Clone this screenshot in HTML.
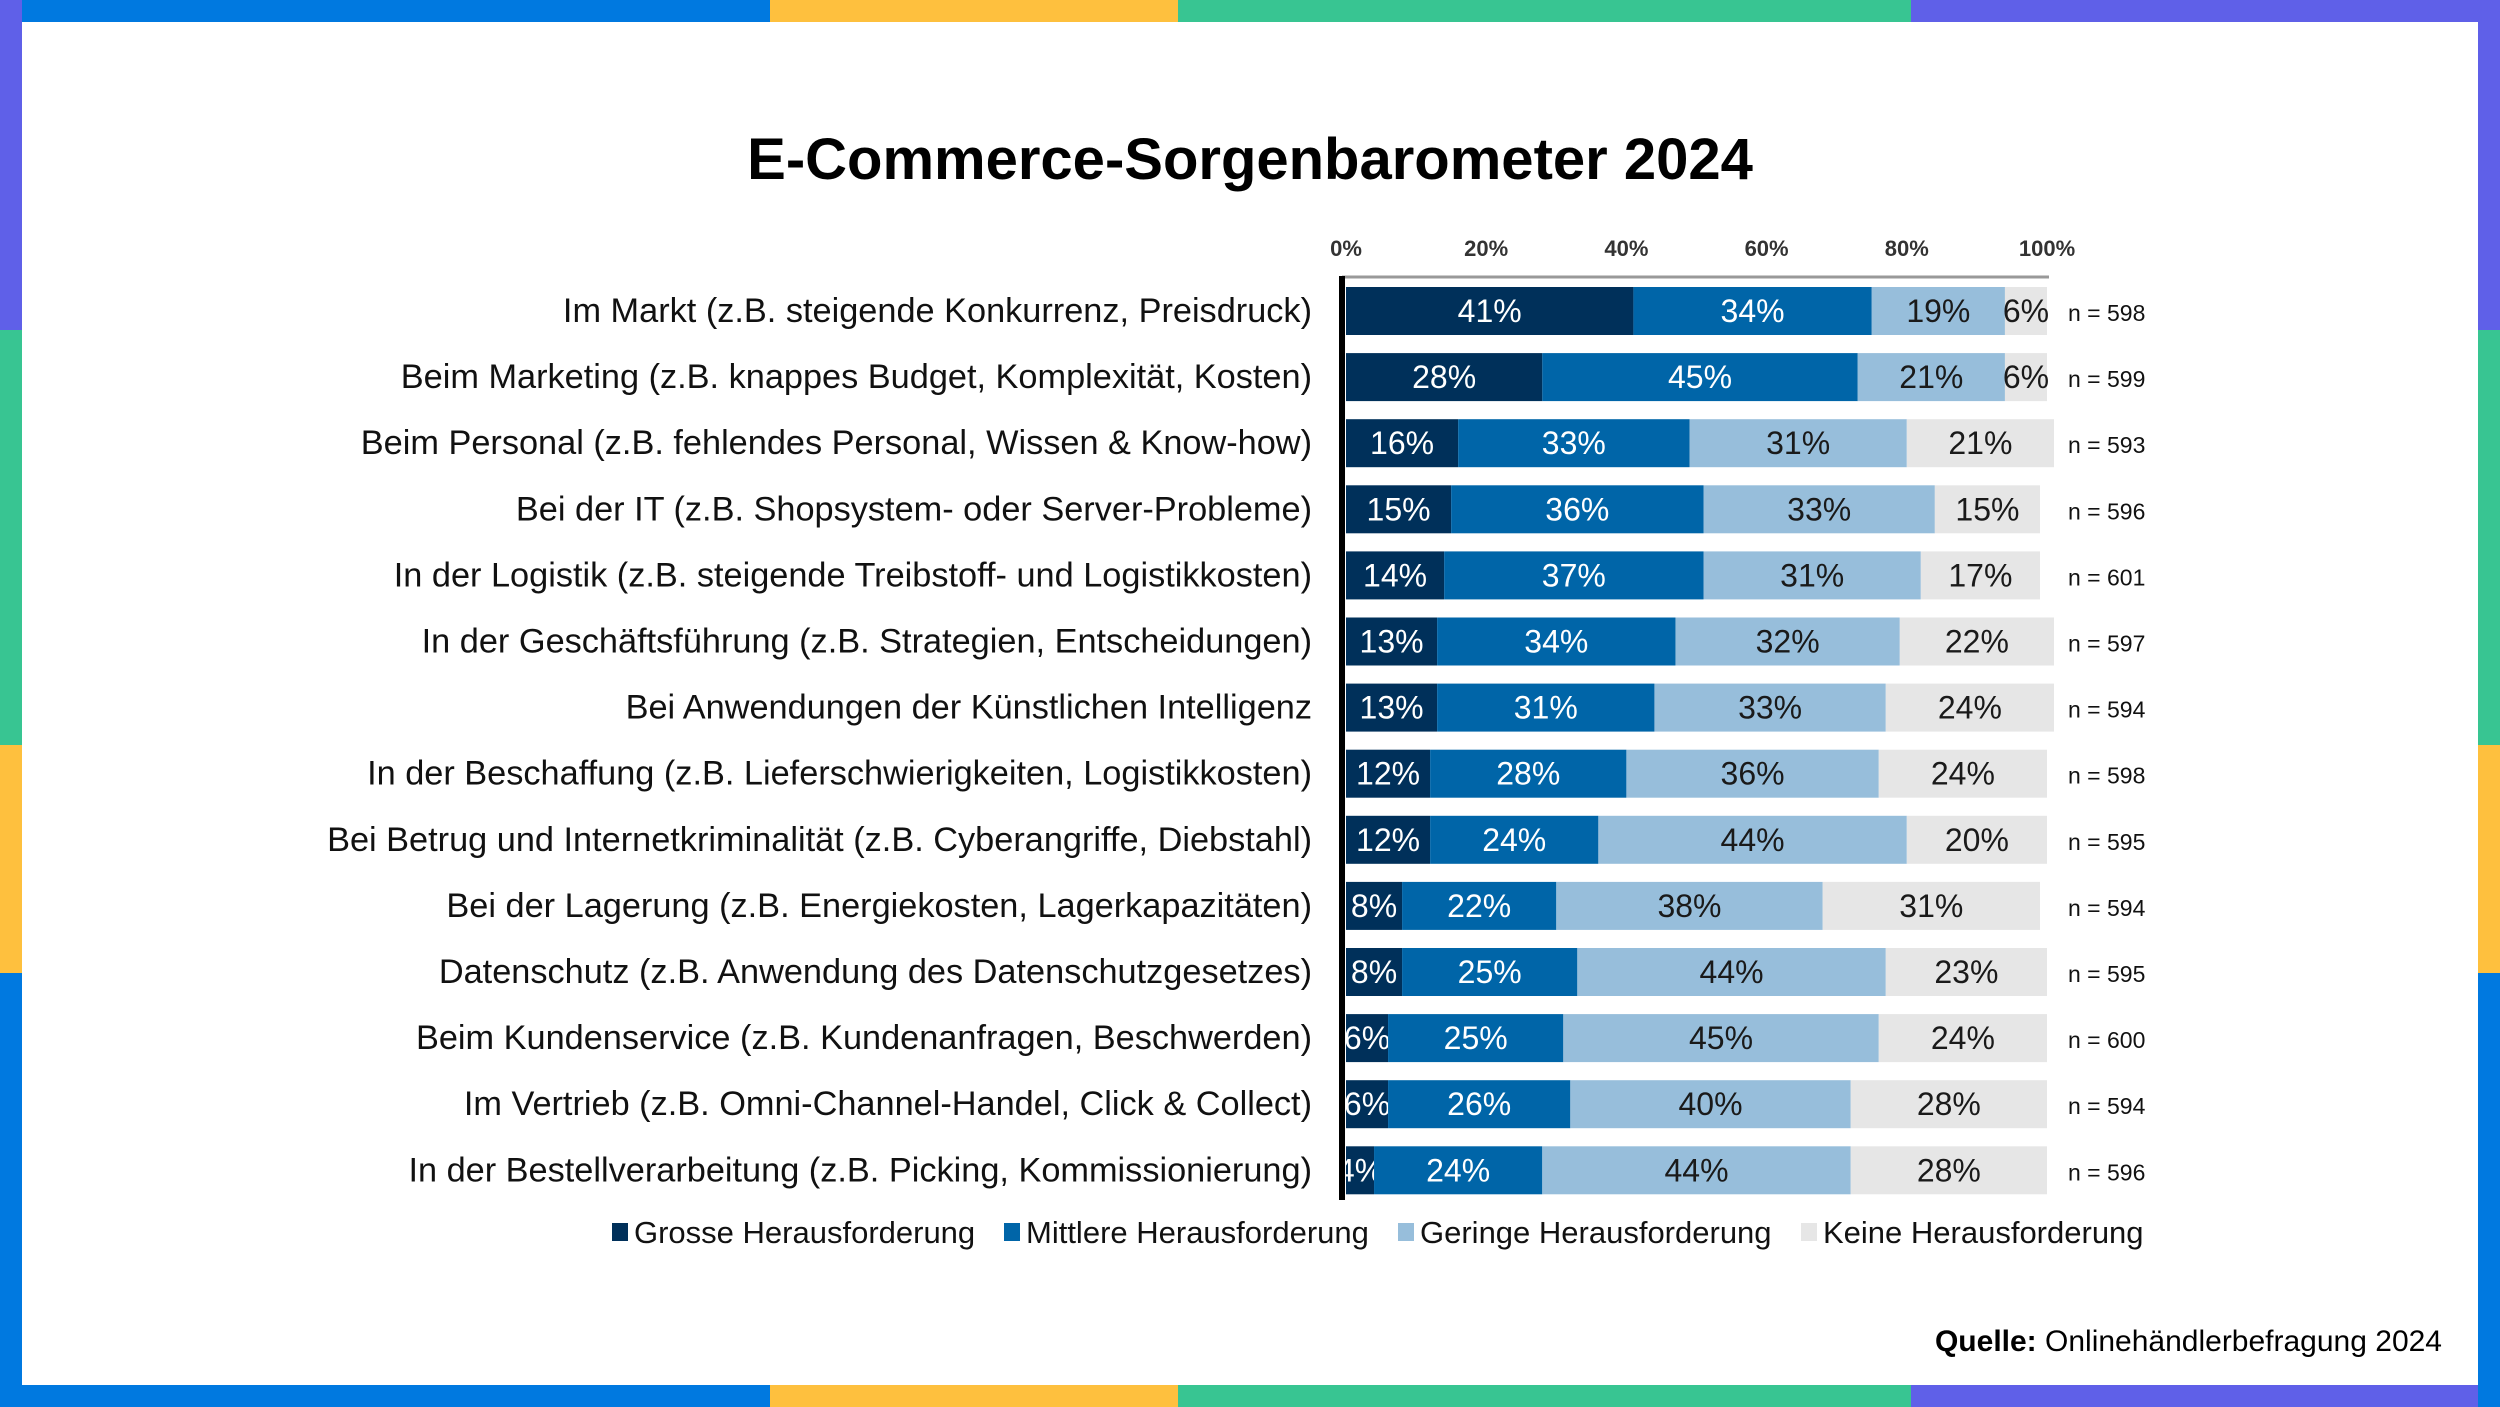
<!DOCTYPE html>
<html><head><meta charset="utf-8">
<style>
html,body{margin:0;padding:0;background:#fff}
#root{position:relative;width:2500px;height:1407px;overflow:hidden;background:#fff;font-family:"Liberation Sans",Arial,sans-serif}
.b{position:absolute}
</style></head>
<body>
<div id="root">
<div class="b" style="left:0;top:0;width:770px;height:22px;background:#0079e0"></div>
<div class="b" style="left:770px;top:0;width:408px;height:22px;background:#fec03e"></div>
<div class="b" style="left:1178px;top:0;width:733px;height:22px;background:#38c592"></div>
<div class="b" style="left:1911px;top:0;width:589px;height:22px;background:#5f60e8"></div>
<div class="b" style="left:0;top:1385px;width:770px;height:22px;background:#0079e0"></div>
<div class="b" style="left:770px;top:1385px;width:408px;height:22px;background:#fec03e"></div>
<div class="b" style="left:1178px;top:1385px;width:733px;height:22px;background:#38c592"></div>
<div class="b" style="left:1911px;top:1385px;width:589px;height:22px;background:#5f60e8"></div>
<div class="b" style="left:0;top:0;width:22px;height:330px;background:#5f60e8"></div>
<div class="b" style="left:0;top:330px;width:22px;height:415px;background:#38c592"></div>
<div class="b" style="left:0;top:745px;width:22px;height:228px;background:#fec03e"></div>
<div class="b" style="left:0;top:973px;width:22px;height:434px;background:#0079e0"></div>
<div class="b" style="left:2478px;top:0;width:22px;height:330px;background:#5f60e8"></div>
<div class="b" style="left:2478px;top:330px;width:22px;height:415px;background:#38c592"></div>
<div class="b" style="left:2478px;top:745px;width:22px;height:228px;background:#fec03e"></div>
<div class="b" style="left:2478px;top:973px;width:22px;height:434px;background:#0079e0"></div>

<div class="b" style="left:0;width:2500px;top:126px;text-align:center;font-size:58px;font-weight:bold;color:#000">E-Commerce-Sorgenbarometer 2024</div>

<svg id="chart" class="b" style="left:0;top:0" width="2500" height="1407"></svg>

<div class="b" style="right:58px;top:1325px;font-size:30px;color:#000"><b>Quelle:</b> Onlinehändlerbefragung 2024</div>
</div>
<script>
const categories=["Im Markt (z.B. steigende Konkurrenz, Preisdruck)","Beim Marketing (z.B. knappes Budget, Komplexität, Kosten)","Beim Personal (z.B. fehlendes Personal, Wissen & Know-how)","Bei der IT (z.B. Shopsystem- oder Server-Probleme)","In der Logistik (z.B. steigende Treibstoff- und Logistikkosten)","In der Geschäftsführung (z.B. Strategien, Entscheidungen)","Bei Anwendungen der Künstlichen Intelligenz","In der Beschaffung  (z.B. Lieferschwierigkeiten, Logistikkosten)","Bei Betrug und Internetkriminalität (z.B. Cyberangriffe, Diebstahl)","Bei der Lagerung (z.B. Energiekosten, Lagerkapazitäten)","Datenschutz (z.B. Anwendung des Datenschutzgesetzes)","Beim Kundenservice (z.B. Kundenanfragen, Beschwerden)","Im Vertrieb (z.B. Omni-Channel-Handel, Click & Collect)","In der Bestellverarbeitung (z.B. Picking, Kommissionierung)"];
const grosse=[41,28,16,15,14,13,13,12,12,8,8,6,6,4];
const mittlere=[34,45,33,36,37,34,31,28,24,22,25,25,26,24];
const geringe=[19,21,31,33,31,32,33,36,44,38,44,45,40,44];
const keine=[6,6,21,15,17,22,24,24,20,31,23,24,28,28];
const nValues=[598,599,593,596,601,597,594,598,595,594,595,600,594,596];
const tickValues=[0,20,40,60,80,100];
const seriesNames=["Grosse Herausforderung","Mittlere Herausforderung","Geringe Herausforderung","Keine Herausforderung"];

const NS="http://www.w3.org/2000/svg";
const svg=document.getElementById('chart');
const X0=1346,X1=2047,ROW0=311,ROWH=66.1,BARH=48;
const xScale=v=>X0+(X1-X0)*v/100;
const yScale=i=>ROW0+i*ROWH;
const colors=["#00305a","#0065a8","#97bedb","#e6e6e6"];
const txtColors=["#fff","#fff","#1a1a1a","#1a1a1a"];
function mk(tag,attrs){const e=document.createElementNS(NS,tag);for(const k in attrs)e.setAttribute(k,attrs[k]);svg.appendChild(e);return e;}

tickValues.forEach(t=>{
  const e=mk('text',{x:xScale(t),y:256,'text-anchor':'middle','font-size':22,'font-weight':'bold',fill:'#333','font-family':'Liberation Sans, sans-serif'});
  e.textContent=t+'%';
  
  
});
const topLine=mk('line',{x1:1342,x2:2049,y1:277,y2:277,stroke:'#999','stroke-width':3});



const series=[grosse,mittlere,geringe,keine];
categories.forEach((c,i)=>{
  const cy=yScale(i);
  const lab=mk('text',{x:1312,y:cy+11,'text-anchor':'end','font-size':34.3,fill:'#111','font-family':'Liberation Sans, sans-serif'});
  lab.textContent=c;
  
  
  let acc=0;
  series.forEach((s,k)=>{
    const v=s[i];
    const r=mk('rect',{x:xScale(acc),y:cy-BARH/2,width:xScale(acc+v)-xScale(acc),height:BARH,fill:colors[k]});
    
    
    const t=mk('text',{x:(xScale(acc)+xScale(acc+v))/2,y:cy+11,'text-anchor':'middle','font-size':32,fill:txtColors[k],'font-family':'Liberation Sans, sans-serif'});
    t.textContent=v+'%';
    
    
    acc+=v;
  });
  const n=mk('text',{x:2068,y:cy+10,'font-size':23,fill:'#111','font-family':'Liberation Sans, sans-serif'});
  n.textContent='n = '+nValues[i];
  
  
});
const ax=mk('line',{x1:1342,x2:1342,y1:276,y2:1200,stroke:'#000','stroke-width':6});



let lx=612;
const legendW=[392,394,403,0];
seriesNames.forEach((nm,k)=>{
  const r=mk('rect',{x:lx,y:1223,width:16,height:18,fill:colors[k]});
  
  
  const t=mk('text',{x:lx+22,y:1243,'font-size':31,fill:'#111','font-family':'Liberation Sans, sans-serif'});
  t.textContent=nm;
  
  
  lx+=legendW[k];
});
</script>
</body></html>
